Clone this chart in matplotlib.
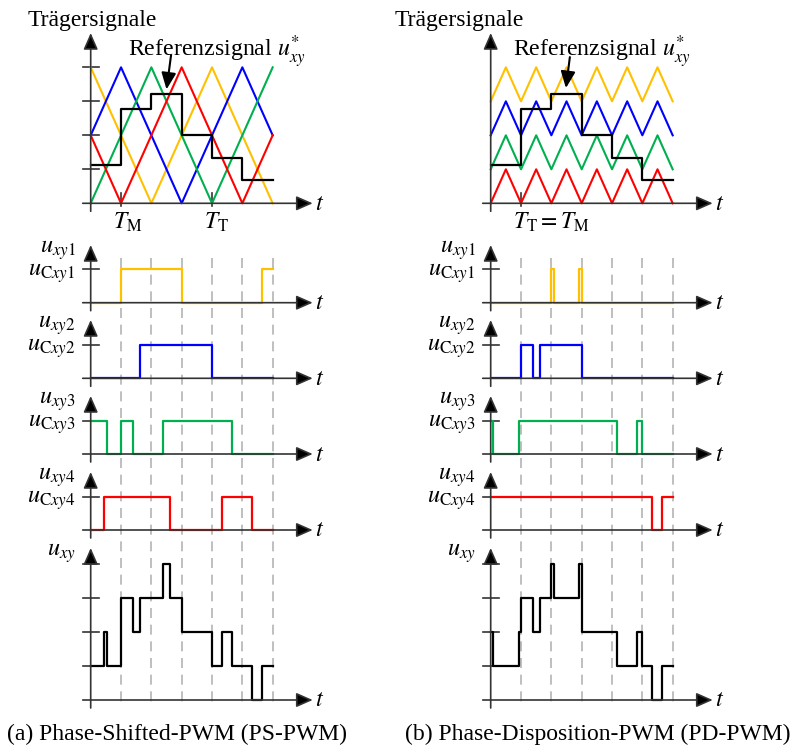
import numpy as np
import matplotlib.pyplot as plt

plt.rcParams['font.family'] = 'Liberation Serif'
plt.rcParams['mathtext.fontset'] = 'stix'

W, H = 799, 749
UX = 30.33          # px per sample interval
AXC = '#333333'
YEL, BLU, GRN, RED = '#FFC000', '#0000FF', '#00B050', '#FF0000'

# ---- data (time in sample intervals, levels in cell voltages) ----
t_grid = [1, 2, 3, 4, 5, 6]
ref_t = [0, 1, 2, 3, 4, 5, 6]
ref_level = [1.13, 2.78, 3.21, 2.0, 1.34, 0.68]

# PS-PWM carriers
ps_yel_t, ps_yel = [0, 2, 4, 6], [4, 0, 4, 0]
ps_blu_t, ps_blu = [0, 1, 3, 5, 6], [2, 4, 0, 4, 2]
ps_grn_t, ps_grn = [0, 2, 4, 6], [0, 4, 0, 4]
ps_red_t, ps_red = [0, 1, 3, 5, 6], [2, 0, 4, 0, 2]

# PD-PWM carriers
pd_t = [0, 0.5, 1, 1.5, 2, 2.5, 3, 3.5, 4, 4.5, 5, 5.5, 6]
pd_yel = [3, 4, 3, 4, 3, 4, 3, 4, 3, 4, 3, 4, 3]
pd_blu = [2, 3, 2, 3, 2, 3, 2, 3, 2, 3, 2, 3, 2]
pd_grn = [1, 2, 1, 2, 1, 2, 1, 2, 1, 2, 1, 2, 1]
pd_red = [0, 1, 0, 1, 0, 1, 0, 1, 0, 1, 0, 1, 0]

# switching signals (switch times, state after each switch)
ps_u1 = ([0, 1, 3, 5.66, 6], [0, 1, 0, 1, 1])
ps_u2 = ([0, 1.62, 4, 6], [0, 1, 0, 0])
ps_u3 = ([0, 0.55, 1, 1.39, 2.39, 4.67, 6], [1, 0, 1, 0, 1, 0, 0])
ps_u4 = ([0, 0.44, 2.61, 4.33, 5.32, 6], [0, 1, 0, 1, 0, 0])

pd_u1 = ([0, 2, 2.1, 2.9, 3, 6], [0, 1, 0, 1, 0, 0])
pd_u2 = ([0, 1, 1.39, 1.63, 3, 6], [0, 1, 0, 1, 0, 0])
pd_u3 = ([0, 0.07, 0.94, 4.16, 4.82, 5, 6], [1, 0, 1, 0, 1, 0, 0])
pd_u4 = ([0, 5.32, 5.66, 6], [1, 0, 1, 1])

u_labels = [r'$u_{xy1}$', r'$u_{xy2}$', r'$u_{xy3}$', r'$u_{xy4}$']
uc_labels = [r'$u_{\mathrm{C}xy1}$', r'$u_{\mathrm{C}xy2}$',
             r'$u_{\mathrm{C}xy3}$', r'$u_{\mathrm{C}xy4}$']
captions = ['(a) Phase-Shifted-PWM (PS-PWM)', '(b) Phase-Disposition-PWM (PD-PWM)']


def step_sum(signals):
    edges = sorted(set(t for s in signals for t in s[0]))
    total = []
    for e in edges:
        v = 0
        for ts, vs in signals:
            i = np.searchsorted(ts, e, side='right') - 1
            v += vs[min(i, len(vs) - 1)]
        total.append(v)
    return edges, total


fig = plt.figure(figsize=(W / 100, H / 100), dpi=100)


def make_panel(x0, base, unit, top):
    lp, rp = x0 - 90, x0 + 240
    bp, tp = base + 20, top - 5
    ax = fig.add_axes([lp / W, 1 - bp / H, (rp - lp) / W, (bp - tp) / H])
    ax.set_xlim((lp - x0) / UX, (rp - x0) / UX)
    ax.set_ylim(-20 / unit, (base - tp) / unit)
    ax.axis('off')
    return ax


def arrow(ax, start, end, lw=1.2):
    ax.annotate('', xy=end, xytext=start,
                arrowprops=dict(arrowstyle='-|>,head_length=0.5,head_width=0.22',
                                mutation_scale=20, lw=lw, color=AXC, fc='black',
                                shrinkA=0, shrinkB=0))


def draw_axes(ax, base, unit, top, yticks):
    arrow(ax, (0, -8 / unit), (0, (base - top) / unit))
    arrow(ax, (-8 / UX, 0), (222 / UX, 0))
    ax.text(224 / UX, -1 / unit, '$t$', fontsize=17.5, ha='left', va='center')
    for y in yticks:
        ax.plot([-8 / UX, 8 / UX], [y, y], color=AXC, lw=1.2)


columns = [
    dict(x0=90.7, title_x=28, ref_x=37, ref_arrow=((2.65, 4.36), (2.5, 3.35)),
         carriers=[(ps_yel_t, ps_yel, YEL), (ps_blu_t, ps_blu, BLU),
                   (ps_grn_t, ps_grn, GRN), (ps_red_t, ps_red, RED)],
         cticks=[1, 2, 3, 4], tmarks=[(1, r'$T_{\mathrm{M}}$'), (4, r'$T_{\mathrm{T}}$')],
         pulses=[ps_u1, ps_u2, ps_u3, ps_u4], cap_x=7),
    dict(x0=490.7, title_x=395, ref_x=22, ref_arrow=((2.61, 4.3), (2.48, 3.39)),
         carriers=[(pd_t, pd_yel, YEL), (pd_t, pd_blu, BLU),
                   (pd_t, pd_grn, GRN), (pd_t, pd_red, RED)],
         cticks=[], tmarks=[(1, r'$T_{\mathrm{T}} = T_{\mathrm{M}}$')],
         pulses=[pd_u1, pd_u2, pd_u3, pd_u4], cap_x=405),
]

pulse_panels = [(302.7, 245), (378.3, 320), (454, 396), (530, 472)]
pulse_unit = 33.4
LFS = 17.5   # size of the signal labels

for n, col in enumerate(columns):
    x0 = col['x0']
    # dashed sample grid, titles, caption
    bg = fig.add_axes([(x0 - 90) / W, 0, 330 / W, 1])
    bg.set_xlim(-90 / UX, 240 / UX)
    bg.set_ylim(H, 0)
    bg.axis('off')
    bg.vlines(t_grid, 258, 705, colors='#b4b4b4', lw=1.2, linestyles=(0, (6, 4)))
    bg.text((col['title_x'] - x0) / UX, 26, 'Trägersignale', fontsize=17,
            ha='left', va='baseline')
    bg.text((col['cap_x'] - x0) / UX, 740, captions[n],
            fontsize=17, ha='left', va='baseline')

    # carriers
    ax = make_panel(x0, 203.3, 34, 33)
    draw_axes(ax, 203.3, 34, 33, col['cticks'])
    for t, marker_label in col['tmarks']:
        ax.plot([t, t], [-3 / 34, 10 / 34], color=AXC, lw=1.2)
        ax.text(t - 8 / UX, -25 / 34, marker_label, fontsize=17, ha='left', va='baseline')
    for ts, ys, c in col['carriers']:
        ax.plot(ts, ys, color=c, lw=1.5)
    ax.step(ref_t, ref_level + [ref_level[-1]], where='post', color='black', lw=1.6)
    ax.text(col['ref_x'] / UX, (203.3 - 57) / 34, r'Referenzsignal $u_{xy}^{*}$',
            fontsize=17.2, ha='left', va='baseline')
    (sx, sy), (ex, ey) = col['ref_arrow']
    ax.annotate('', xy=(ex, ey), xytext=(sx, sy),
                arrowprops=dict(arrowstyle='-|>,head_length=0.5,head_width=0.22',
                                mutation_scale=20, lw=1.5, color='black',
                                shrinkA=0, shrinkB=0))

    # switching signals
    colors = [YEL, BLU, GRN, RED]
    for k, ((base, top), sig) in enumerate(zip(pulse_panels, col['pulses'])):
        ax = make_panel(x0, base, pulse_unit, top)
        draw_axes(ax, base, pulse_unit, top, [1])
        ax.step(sig[0], sig[1], where='post', color=colors[k], lw=1.6)
        ax.text(-15 / UX, (base - top - 8) / pulse_unit, u_labels[k], fontsize=LFS,
                ha='right', va='baseline')
        ax.text(-15 / UX, 1 - 6 / pulse_unit, uc_labels[k], fontsize=LFS,
                ha='right', va='baseline')

    # sum signal
    ax = make_panel(x0, 700, 34, 548)
    draw_axes(ax, 700, 34, 548, [1, 2, 3, 4])
    et, ev = step_sum(col['pulses'])
    ax.step(et, ev, where='post', color='black', lw=1.6)
    ax.text(-15 / UX, (700 - 556) / 34, r'$u_{xy}$', fontsize=LFS, ha='right', va='baseline')

fig.savefig('out.png', dpi=100)
